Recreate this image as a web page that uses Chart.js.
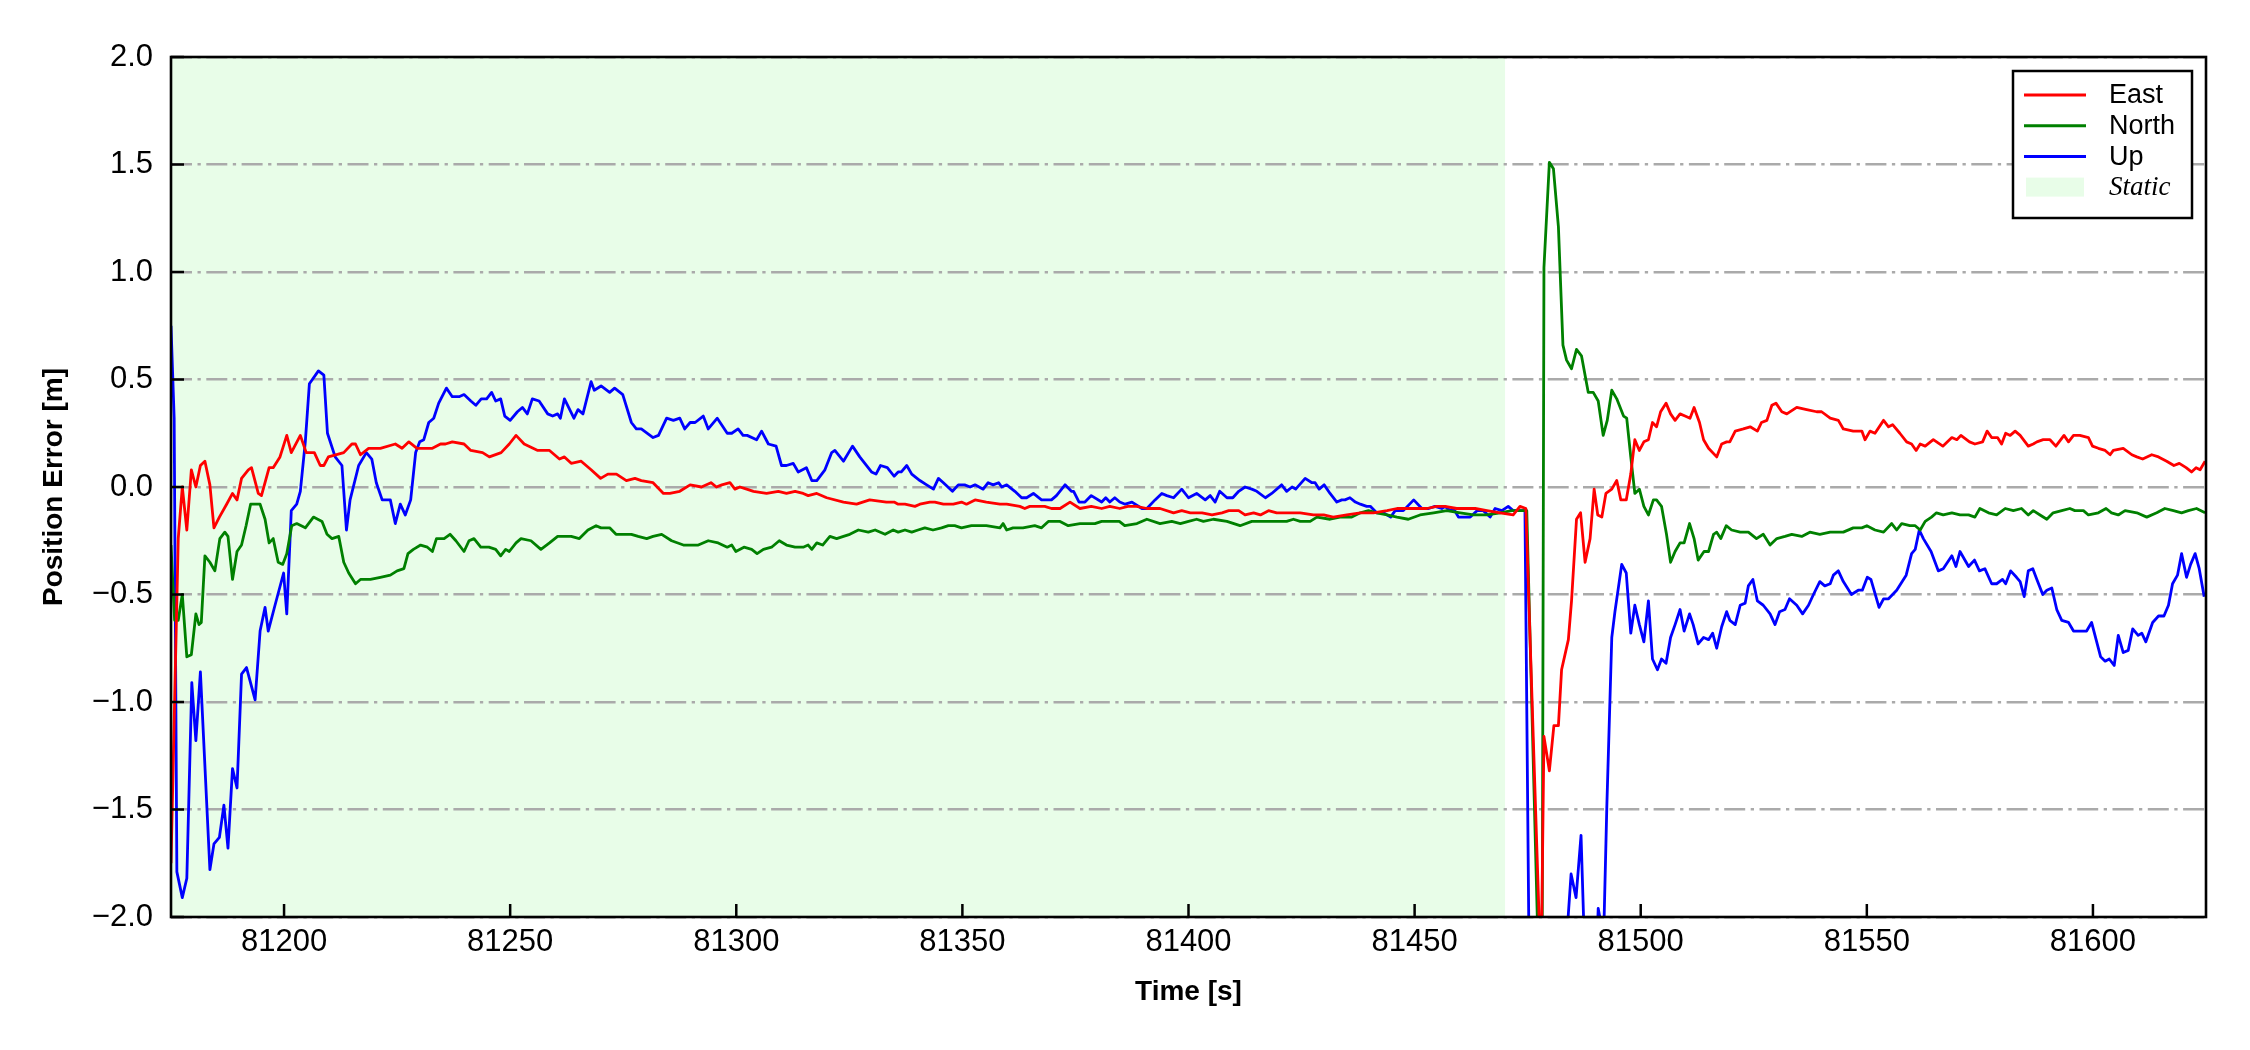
<!DOCTYPE html>
<html>
<head>
<meta charset="utf-8">
<title>Position Error</title>
<script src="https://cdn.jsdelivr.net/npm/chart.js@4.4.1/dist/chart.umd.min.js"></script>
<style>
  html, body { margin: 0; padding: 0; background: #ffffff; }
  #wrap { width: 2250px; height: 1050px; }
</style>
</head>
<body>
<div id="wrap"><canvas id="errorChart" width="2250" height="1050"></canvas></div>
<script>
// ---- data ----
const xTickValues = [81200, 81250, 81300, 81350, 81400, 81450, 81500, 81550, 81600];
const xRange = [81175, 81625];
const yRange = [-2.0, 2.0];
const staticSpan = [81175, 81470];
const staticLabel = "Static";

const eastTime = [
  81175.0, 81176.6, 81177.5, 81178.5, 81179.5, 81180.5, 81181.5, 81182.5, 81183.6, 81184.5,
  81185.7, 81187.3, 81188.6, 81189.6, 81190.6, 81192.1, 81192.8, 81194.3, 81195.0, 81196.7,
  81197.6, 81199.1, 81200.6, 81201.6, 81203.6, 81204.9, 81206.7, 81208.0, 81208.8, 81209.8,
  81213.2, 81215.0, 81215.8, 81216.9, 81218.7, 81221.3, 81224.6, 81226.1, 81227.6, 81229.4,
  81232.8, 81234.6, 81235.7, 81237.2, 81239.8, 81241.3, 81243.9, 81245.4, 81248.0, 81249.8,
  81251.3, 81253.1, 81256.1, 81258.7, 81260.9, 81262.0, 81263.5, 81265.7, 81267.9, 81270.0,
  81271.6, 81273.5, 81275.7, 81277.6, 81279.0, 81281.6, 81283.9, 81285.3, 81287.5, 81289.8,
  81292.3, 81294.4, 81295.6, 81296.8, 81298.6, 81299.7, 81300.8, 81302.3, 81303.8, 81306.7,
  81309.3, 81311.1, 81313.0, 81314.8, 81315.9, 81317.8, 81320.0, 81323.7, 81326.6, 81329.5,
  81333.2, 81334.9, 81335.8, 81337.3, 81339.5, 81340.6, 81342.8, 81343.9, 81345.8, 81348.0,
  81349.8, 81350.9, 81352.8, 81355.3, 81358.3, 81359.8, 81362.7, 81363.8, 81364.9, 81368.2,
  81369.7, 81371.6, 81373.8, 81376.0, 81378.5, 81380.8, 81382.6, 81384.8, 81386.6, 81388.5,
  81390.8, 81393.7, 81396.7, 81398.5, 81400.4, 81403.0, 81405.2, 81407.4, 81408.9, 81411.1,
  81412.5, 81414.4, 81415.9, 81417.7, 81419.5, 81421.7, 81424.7, 81427.6, 81429.9, 81432.0,
  81435.0, 81438.0, 81440.9, 81443.9, 81446.1, 81448.3, 81449.8, 81452.7, 81454.9, 81456.7,
  81459.3, 81461.5, 81463.4, 81466.0, 81468.9, 81471.8, 81473.3, 81474.6, 81477.6, 81477.9,
  81478.6, 81479.8, 81480.8, 81481.8, 81482.5, 81484.0, 81484.7, 81485.8, 81486.7, 81487.7,
  81488.8, 81489.7, 81490.5, 81491.4, 81492.3, 81493.6, 81494.7, 81495.6, 81496.8, 81497.8,
  81498.7, 81499.7, 81500.7, 81501.7, 81502.6, 81503.5, 81504.4, 81505.6, 81506.6, 81507.6,
  81508.7, 81509.8, 81510.9, 81511.8, 81513.0, 81513.9, 81515.0, 81516.8, 81517.9, 81519.0,
  81519.7, 81520.9, 81522.7, 81524.2, 81525.8, 81526.7, 81527.9, 81529.0, 81529.9, 81531.2,
  81532.3, 81534.5, 81536.7, 81538.9, 81540.0, 81541.9, 81543.7, 81544.8, 81547.0, 81548.9,
  81549.6, 81550.7, 81551.8, 81553.7, 81554.8, 81555.7, 81557.3, 81558.8, 81559.9, 81560.9,
  81561.8, 81562.9, 81564.7, 81566.8, 81568.8, 81569.9, 81570.8, 81572.7, 81573.9, 81575.6,
  81576.6, 81577.6, 81578.9, 81579.8, 81580.7, 81581.7, 81582.8, 81583.9, 81585.7, 81586.8,
  81587.6, 81589.0, 81590.5, 81591.8, 81593.6, 81594.6, 81595.7, 81597.1, 81599.0, 81599.9,
  81601.2, 81602.7, 81603.8, 81604.5, 81606.7, 81608.6, 81609.7, 81611.0, 81613.0, 81614.5,
  81616.3, 81617.9, 81619.1, 81620.6, 81621.8, 81622.8, 81623.7, 81624.8
];
const eastError = [
  -1.75, -0.24, 0.00, -0.20, 0.08, 0.00, 0.10, 0.12, 0.01, -0.19,
  -0.14, -0.08, -0.03, -0.06, 0.04, 0.08, 0.09, -0.03, -0.04, 0.09,
  0.09, 0.14, 0.24, 0.16, 0.24, 0.16, 0.16, 0.10, 0.10, 0.14,
  0.16, 0.20, 0.20, 0.15, 0.18, 0.18, 0.20, 0.18, 0.21, 0.18,
  0.18, 0.20, 0.20, 0.21, 0.20, 0.17, 0.16, 0.14, 0.16, 0.20,
  0.24, 0.20, 0.17, 0.17, 0.13, 0.14, 0.11, 0.12, 0.08, 0.04,
  0.06, 0.06, 0.03, 0.04, 0.03, 0.02, -0.03, -0.03, -0.02, 0.01,
  0.00, 0.02, 0.00, 0.01, 0.02, -0.01, 0.00, -0.01, -0.02, -0.03,
  -0.02, -0.03, -0.02, -0.03, -0.04, -0.03, -0.05, -0.07, -0.08, -0.06,
  -0.07, -0.07, -0.08, -0.08, -0.09, -0.08, -0.07, -0.07, -0.08, -0.08,
  -0.07, -0.08, -0.06, -0.07, -0.08, -0.08, -0.09, -0.10, -0.09, -0.09,
  -0.10, -0.10, -0.07, -0.10, -0.09, -0.10, -0.09, -0.10, -0.09, -0.09,
  -0.10, -0.10, -0.12, -0.11, -0.12, -0.12, -0.13, -0.12, -0.11, -0.11,
  -0.13, -0.12, -0.13, -0.11, -0.12, -0.12, -0.12, -0.13, -0.13, -0.14,
  -0.13, -0.12, -0.12, -0.11, -0.10, -0.10, -0.10, -0.10, -0.09, -0.09,
  -0.10, -0.10, -0.10, -0.11, -0.12, -0.13, -0.09, -0.10, -2.05, -2.40,
  -1.16, -1.32, -1.11, -1.11, -0.85, -0.71, -0.53, -0.15, -0.12, -0.35,
  -0.24, -0.01, -0.13, -0.14, -0.03, -0.01, 0.03, -0.06, -0.06, 0.06,
  0.22, 0.17, 0.21, 0.22, 0.30, 0.28, 0.35, 0.39, 0.34, 0.31,
  0.34, 0.33, 0.32, 0.37, 0.30, 0.22, 0.18, 0.14, 0.20, 0.21,
  0.21, 0.26, 0.27, 0.28, 0.26, 0.30, 0.31, 0.38, 0.39, 0.35,
  0.34, 0.37, 0.36, 0.35, 0.35, 0.32, 0.31, 0.27, 0.26, 0.26,
  0.22, 0.26, 0.25, 0.31, 0.28, 0.29, 0.25, 0.21, 0.20, 0.17,
  0.20, 0.19, 0.22, 0.19, 0.23, 0.22, 0.24, 0.21, 0.20, 0.21,
  0.26, 0.23, 0.23, 0.20, 0.25, 0.24, 0.26, 0.24, 0.19, 0.20,
  0.21, 0.22, 0.22, 0.19, 0.24, 0.21, 0.24, 0.24, 0.23, 0.19,
  0.18, 0.17, 0.15, 0.17, 0.18, 0.15, 0.14, 0.13, 0.15, 0.14,
  0.12, 0.10, 0.11, 0.09, 0.07, 0.09, 0.08, 0.12
];

const northTime = [
  81175.0, 81175.8, 81176.6, 81177.5, 81178.5, 81179.5, 81180.5, 81181.2, 81181.7, 81182.5,
  81183.6, 81184.7, 81185.8, 81186.9, 81187.6, 81188.6, 81189.6, 81190.6, 81191.6, 81192.6,
  81193.6, 81194.7, 81195.8, 81196.7, 81197.6, 81198.7, 81199.7, 81200.6, 81201.7, 81202.8,
  81204.7, 81206.5, 81208.4, 81209.5, 81210.6, 81212.1, 81213.2, 81214.3, 81215.8, 81216.9,
  81219.1, 81221.3, 81223.5, 81225.0, 81226.5, 81227.4, 81228.6, 81230.2, 81231.7, 81232.8,
  81233.7, 81235.4, 81236.7, 81238.0, 81239.8, 81240.9, 81242.0, 81243.5, 81245.3, 81246.8,
  81247.9, 81249.0, 81249.8, 81251.3, 81252.4, 81254.6, 81256.8, 81258.7, 81260.5, 81263.5,
  81265.3, 81267.2, 81269.0, 81270.1, 81272.0, 81273.4, 81274.9, 81276.8, 81278.3, 81280.2,
  81281.6, 81283.5, 81285.7, 81288.3, 81290.1, 81291.6, 81293.8, 81296.0, 81298.0, 81299.0,
  81299.9, 81301.7, 81303.4, 81304.6, 81306.0, 81307.8, 81309.5, 81311.1, 81313.0, 81314.8,
  81315.9, 81316.7, 81317.8, 81319.1, 81320.7, 81322.2, 81323.7, 81325.1, 81327.0, 81329.2,
  81330.7, 81332.9, 81334.7, 81335.8, 81337.3, 81338.8, 81340.2, 81341.7, 81343.5, 81345.4,
  81346.9, 81348.3, 81349.8, 81352.0, 81355.3, 81358.3, 81359.0, 81359.8, 81361.2, 81363.4,
  81366.0, 81367.5, 81369.0, 81371.6, 81373.4, 81376.0, 81379.3, 81380.8, 81381.9, 81383.3,
  81384.7, 81385.9, 81388.6, 81390.8, 81393.7, 81396.3, 81398.2, 81400.0, 81401.8, 81403.3,
  81405.5, 81408.5, 81411.4, 81414.0, 81416.6, 81418.8, 81421.7, 81423.2, 81424.7, 81426.9,
  81428.4, 81431.3, 81433.5, 81436.1, 81438.0, 81439.8, 81441.6, 81443.9, 81446.1, 81448.6,
  81451.2, 81454.2, 81457.1, 81460.1, 81463.0, 81466.0, 81468.9, 81471.5, 81473.3, 81474.8,
  81477.5, 81478.2, 81478.6, 81479.8, 81480.7, 81481.8, 81482.8, 81483.6, 81484.7, 81485.8,
  81486.9, 81488.4, 81489.5, 81490.6, 81491.7, 81492.6, 81493.6, 81494.7, 81496.2, 81496.9,
  81497.8, 81498.7, 81499.7, 81500.7, 81501.7, 81502.8, 81503.5, 81504.6, 81505.7, 81506.6,
  81507.6, 81508.7, 81509.6, 81510.8, 81511.8, 81512.7, 81514.0, 81515.0, 81516.1, 81516.8,
  81517.7, 81518.9, 81520.1, 81522.0, 81523.8, 81525.6, 81527.1, 81528.6, 81530.1, 81531.9,
  81533.4, 81535.6, 81537.4, 81539.6, 81541.9, 81544.8, 81547.0, 81548.9, 81550.0, 81551.8,
  81553.7, 81555.5, 81556.6, 81557.7, 81559.5, 81560.7, 81561.8, 81562.9, 81564.3, 81565.4,
  81566.9, 81568.8, 81570.6, 81572.5, 81573.9, 81575.0, 81576.9, 81578.7, 81580.6, 81582.4,
  81584.2, 81585.7, 81586.8, 81588.3, 81589.8, 81591.2, 81593.1, 81594.9, 81596.0, 81597.9,
  81599.0, 81601.2, 81602.9, 81604.1, 81605.6, 81607.1, 81609.7, 81611.9, 81614.1, 81615.9,
  81617.8, 81619.6, 81621.1, 81622.9, 81624.8
];
const northError = [
  -0.27, -0.62, -0.62, -0.50, -0.79, -0.78, -0.59, -0.64, -0.63, -0.32,
  -0.35, -0.39, -0.24, -0.21, -0.23, -0.43, -0.30, -0.27, -0.18, -0.08,
  -0.08, -0.08, -0.15, -0.26, -0.24, -0.35, -0.36, -0.31, -0.18, -0.17,
  -0.19, -0.14, -0.16, -0.22, -0.24, -0.23, -0.35, -0.40, -0.45, -0.43,
  -0.43, -0.42, -0.41, -0.39, -0.38, -0.31, -0.29, -0.27, -0.28, -0.30,
  -0.24, -0.24, -0.22, -0.25, -0.30, -0.25, -0.24, -0.28, -0.28, -0.29,
  -0.32, -0.29, -0.30, -0.26, -0.24, -0.25, -0.29, -0.26, -0.23, -0.23,
  -0.24, -0.20, -0.18, -0.19, -0.19, -0.22, -0.22, -0.22, -0.23, -0.24,
  -0.23, -0.22, -0.25, -0.27, -0.27, -0.27, -0.25, -0.26, -0.28, -0.27,
  -0.30, -0.28, -0.29, -0.31, -0.29, -0.28, -0.25, -0.27, -0.28, -0.28,
  -0.27, -0.29, -0.26, -0.27, -0.23, -0.24, -0.23, -0.22, -0.20, -0.21,
  -0.20, -0.22, -0.20, -0.21, -0.20, -0.21, -0.20, -0.19, -0.20, -0.19,
  -0.18, -0.18, -0.19, -0.18, -0.18, -0.19, -0.17, -0.20, -0.19, -0.19,
  -0.18, -0.19, -0.16, -0.16, -0.18, -0.17, -0.17, -0.16, -0.16, -0.16,
  -0.16, -0.18, -0.17, -0.15, -0.17, -0.16, -0.17, -0.16, -0.15, -0.16,
  -0.15, -0.16, -0.18, -0.16, -0.16, -0.16, -0.16, -0.15, -0.16, -0.16,
  -0.14, -0.15, -0.14, -0.14, -0.12, -0.11, -0.12, -0.13, -0.14, -0.15,
  -0.13, -0.12, -0.11, -0.12, -0.13, -0.13, -0.12, -0.11, -0.11, -0.11,
  -2.30, -2.30, 1.02, 1.51, 1.48, 1.21, 0.66, 0.59, 0.55, 0.64,
  0.61, 0.44, 0.44, 0.40, 0.24, 0.31, 0.45, 0.41, 0.33, 0.32,
  0.14, -0.03, -0.01, -0.09, -0.13, -0.06, -0.06, -0.09, -0.22, -0.35,
  -0.30, -0.26, -0.26, -0.17, -0.24, -0.34, -0.30, -0.30, -0.22, -0.21,
  -0.24, -0.18, -0.20, -0.21, -0.21, -0.24, -0.22, -0.27, -0.24, -0.23,
  -0.22, -0.23, -0.21, -0.22, -0.21, -0.21, -0.19, -0.19, -0.18, -0.20,
  -0.21, -0.17, -0.20, -0.17, -0.18, -0.18, -0.20, -0.16, -0.14, -0.12,
  -0.13, -0.12, -0.13, -0.13, -0.14, -0.10, -0.12, -0.13, -0.10, -0.11,
  -0.10, -0.13, -0.11, -0.13, -0.15, -0.12, -0.11, -0.10, -0.11, -0.11,
  -0.13, -0.12, -0.10, -0.12, -0.13, -0.11, -0.12, -0.14, -0.12, -0.10,
  -0.11, -0.12, -0.11, -0.10, -0.12
];

const upTime = [
  81175.0, 81175.7, 81176.3, 81177.5, 81178.5, 81179.6, 81180.5, 81181.5, 81183.6, 81184.5,
  81185.7, 81186.7, 81187.6, 81188.6, 81189.6, 81190.6, 81191.7, 81193.6, 81194.7, 81195.8,
  81196.5, 81198.0, 81199.9, 81200.6, 81201.6, 81202.8, 81203.6, 81204.7, 81205.6, 81207.6,
  81208.8, 81209.6, 81211.3, 81212.8, 81213.8, 81214.6, 81216.5, 81218.2, 81219.4, 81220.4,
  81221.7, 81223.5, 81224.6, 81225.7, 81226.8, 81228.0, 81229.1, 81230.0, 81230.9, 81232.0,
  81233.1, 81234.2, 81235.9, 81237.2, 81238.7, 81239.8, 81241.3, 81242.4, 81243.6, 81244.8,
  81245.9, 81246.8, 81247.9, 81248.8, 81250.0, 81251.6, 81252.7, 81253.8, 81254.9, 81256.4,
  81258.3, 81259.4, 81260.5, 81261.1, 81262.0, 81264.1, 81265.0, 81266.1, 81267.9, 81268.6,
  81270.1, 81272.0, 81273.1, 81274.9, 81276.8, 81277.9, 81279.0, 81281.6, 81282.8, 81284.6,
  81286.1, 81287.5, 81288.6, 81289.8, 81290.9, 81292.7, 81293.8, 81295.8, 81298.0, 81299.0,
  81300.4, 81301.5, 81302.4, 81304.5, 81305.6, 81307.1, 81308.8, 81310.0, 81311.1, 81312.6,
  81313.7, 81315.5, 81316.7, 81317.8, 81319.6, 81321.1, 81321.8, 81323.7, 81325.7, 81327.3,
  81329.9, 81330.9, 81331.9, 81333.4, 81334.9, 81335.8, 81336.5, 81337.7, 81338.8, 81340.6,
  81342.1, 81343.6, 81344.7, 81345.8, 81347.8, 81349.1, 81350.5, 81351.7, 81352.8, 81354.6,
  81355.7, 81356.8, 81358.0, 81358.7, 81359.8, 81361.6, 81363.1, 81364.2, 81365.7, 81367.5,
  81369.7, 81370.8, 81372.7, 81374.1, 81374.6, 81375.8, 81377.1, 81378.5, 81380.8, 81381.7,
  81382.6, 81383.7, 81384.8, 81386.0, 81387.5, 81389.7, 81390.8, 81392.6, 81394.1, 81395.2,
  81396.7, 81398.5, 81400.0, 81401.8, 81403.7, 81404.8, 81405.9, 81406.9, 81408.5, 81409.8,
  81411.1, 81412.5, 81414.0, 81415.1, 81417.0, 81418.4, 81420.6, 81421.7, 81422.9, 81423.7,
  81425.8, 81427.3, 81428.0, 81428.9, 81430.0, 81431.3, 81432.8, 81433.9, 81434.6, 81435.7,
  81436.9, 81438.0, 81439.4, 81440.2, 81441.6, 81443.1, 81444.7, 81445.7, 81447.5, 81449.8,
  81451.6, 81453.1, 81454.5, 81456.0, 81456.7, 81457.9, 81458.6, 81459.7, 81460.8, 81462.3,
  81463.8, 81465.2, 81466.7, 81467.8, 81469.3, 81470.7, 81471.8, 81473.3, 81474.4, 81475.5,
  81479.0, 81483.3, 81484.6, 81485.7, 81486.8, 81487.8, 81489.5, 81490.6, 81491.8, 81492.5,
  81493.6, 81494.3, 81495.8, 81496.8, 81497.8, 81498.7, 81499.7, 81500.7, 81501.7, 81502.6,
  81503.7, 81504.6, 81505.6, 81506.6, 81507.6, 81508.7, 81509.6, 81510.8, 81511.6, 81512.7,
  81513.9, 81515.0, 81515.9, 81516.8, 81517.9, 81519.0, 81519.7, 81520.9, 81522.0, 81523.1,
  81523.8, 81524.8, 81525.8, 81527.1, 81528.6, 81529.7, 81530.7, 81531.9, 81532.9, 81534.5,
  81535.8, 81537.1, 81538.2, 81539.6, 81540.7, 81541.9, 81542.6, 81543.7, 81544.8, 81546.6,
  81548.1, 81549.0, 81550.1, 81550.9, 81552.7, 81553.7, 81554.8, 81556.6, 81558.7, 81559.9,
  81560.7, 81561.6, 81562.5, 81564.2, 81565.8, 81566.9, 81568.8, 81569.7, 81570.6, 81572.5,
  81573.8, 81574.9, 81576.1, 81577.6, 81578.7, 81580.0, 81580.7, 81581.8, 81583.1, 81583.9,
  81584.8, 81585.7, 81586.7, 81587.6, 81588.9, 81589.8, 81590.9, 81592.0, 81593.1, 81594.6,
  81595.7, 81597.5, 81598.6, 81599.7, 81600.7, 81601.7, 81602.7, 81603.6, 81604.7, 81605.6,
  81606.7, 81607.8, 81608.8, 81610.0, 81610.8, 81611.7, 81613.2, 81614.5, 81615.7, 81616.7,
  81617.6, 81618.7, 81619.6, 81620.7, 81621.6, 81622.6, 81623.5, 81624.6
];
const upError = [
  0.75, 0.32, -1.79, -1.91, -1.82, -0.91, -1.18, -0.86, -1.78, -1.66,
  -1.63, -1.48, -1.68, -1.31, -1.40, -0.87, -0.84, -0.99, -0.67, -0.56,
  -0.67, -0.55, -0.40, -0.59, -0.11, -0.08, -0.02, 0.21, 0.48, 0.54,
  0.52, 0.25, 0.14, 0.10, -0.20, -0.06, 0.10, 0.16, 0.13, 0.02,
  -0.06, -0.06, -0.17, -0.08, -0.13, -0.06, 0.16, 0.21, 0.22, 0.30,
  0.32, 0.39, 0.46, 0.42, 0.42, 0.43, 0.40, 0.38, 0.41, 0.41,
  0.44, 0.40, 0.41, 0.33, 0.31, 0.35, 0.37, 0.34, 0.41, 0.40,
  0.34, 0.33, 0.34, 0.32, 0.41, 0.32, 0.36, 0.34, 0.49, 0.45,
  0.47, 0.44, 0.46, 0.43, 0.30, 0.27, 0.27, 0.23, 0.24, 0.32,
  0.31, 0.32, 0.27, 0.30, 0.30, 0.33, 0.27, 0.32, 0.25, 0.25,
  0.27, 0.24, 0.24, 0.22, 0.26, 0.20, 0.19, 0.10, 0.10, 0.11,
  0.07, 0.09, 0.03, 0.03, 0.08, 0.16, 0.17, 0.12, 0.19, 0.14,
  0.07, 0.06, 0.10, 0.09, 0.05, 0.07, 0.07, 0.10, 0.06, 0.03,
  0.01, -0.01, 0.04, 0.02, -0.02, 0.01, 0.01, 0.00, 0.01, -0.01,
  0.02, 0.01, 0.02, 0.00, 0.01, -0.02, -0.05, -0.05, -0.03, -0.06,
  -0.06, -0.04, 0.01, -0.02, -0.02, -0.07, -0.07, -0.04, -0.07, -0.05,
  -0.07, -0.05, -0.07, -0.08, -0.07, -0.10, -0.10, -0.06, -0.03, -0.04,
  -0.05, -0.01, -0.05, -0.03, -0.06, -0.04, -0.07, -0.02, -0.05, -0.05,
  -0.02, 0.00, -0.01, -0.02, -0.05, -0.03, 0.01, -0.02, 0.00, -0.01,
  0.04, 0.02, 0.02, -0.01, 0.01, -0.03, -0.07, -0.06, -0.06, -0.05,
  -0.07, -0.08, -0.09, -0.09, -0.12, -0.12, -0.14, -0.11, -0.11, -0.06,
  -0.10, -0.10, -0.09, -0.10, -0.09, -0.11, -0.10, -0.14, -0.14, -0.14,
  -0.11, -0.11, -0.14, -0.10, -0.11, -0.09, -0.11, -0.11, -0.11, -2.60,
  -3.00, -2.20, -1.80, -1.91, -1.62, -2.30, -2.60, -1.96, -2.10, -1.49,
  -0.70, -0.58, -0.36, -0.40, -0.68, -0.55, -0.64, -0.72, -0.53, -0.80,
  -0.85, -0.80, -0.82, -0.70, -0.64, -0.57, -0.67, -0.59, -0.64, -0.73,
  -0.70, -0.71, -0.68, -0.75, -0.65, -0.58, -0.62, -0.64, -0.55, -0.54,
  -0.46, -0.43, -0.53, -0.55, -0.59, -0.64, -0.58, -0.57, -0.52, -0.55,
  -0.59, -0.55, -0.50, -0.44, -0.46, -0.45, -0.41, -0.39, -0.44, -0.50,
  -0.48, -0.48, -0.42, -0.43, -0.56, -0.52, -0.52, -0.48, -0.41, -0.31,
  -0.29, -0.20, -0.24, -0.30, -0.39, -0.38, -0.32, -0.37, -0.30, -0.37,
  -0.34, -0.39, -0.38, -0.45, -0.45, -0.43, -0.45, -0.39, -0.42, -0.44,
  -0.51, -0.39, -0.38, -0.43, -0.50, -0.48, -0.47, -0.57, -0.62, -0.63,
  -0.67, -0.67, -0.67, -0.63, -0.71, -0.79, -0.81, -0.80, -0.83, -0.69,
  -0.77, -0.76, -0.66, -0.69, -0.68, -0.72, -0.63, -0.60, -0.60, -0.55,
  -0.45, -0.41, -0.31, -0.42, -0.36, -0.31, -0.38, -0.51
];

const seriesNames = ["East", "North", "Up"];
const seriesColors = ["#ff0000", "#008000", "#0000ff"];
const staticColor = "#e8fde8";
const gridColor = "#aaaaaa";
const sansFont = "'Liberation Sans', Arial, Helvetica, sans-serif";
const serifFont = "'Liberation Serif', 'Times New Roman', serif";

const toPoints = (times, values) => times.map((t, i) => ({ x: t, y: values[i] }));

const formatTick = (v) => (v < 0 ? "\u2212" : "") + Math.abs(v).toFixed(1);

// light green band marking the static period, drawn under grid and lines
const staticBand = {
  id: "staticBand",
  beforeDraw(chart) {
    const { ctx, chartArea, scales } = chart;
    const x0 = Math.max(scales.x.getPixelForValue(staticSpan[0]), chartArea.left);
    const x1 = Math.min(scales.x.getPixelForValue(staticSpan[1]), chartArea.right);
    ctx.save();
    ctx.fillStyle = staticColor;
    ctx.fillRect(x0, chartArea.top, x1 - x0, chartArea.bottom - chartArea.top);
    ctx.restore();
  },
};

// black frame and inward tick marks
const frameTicks = {
  id: "frameTicks",
  afterDatasetsDraw(chart) {
    const { ctx, chartArea, scales } = chart;
    const len = 13;
    ctx.save();
    ctx.strokeStyle = "#000";
    ctx.lineWidth = 2.5;
    ctx.beginPath();
    scales.x.ticks.forEach((t) => {
      const px = scales.x.getPixelForValue(t.value);
      ctx.moveTo(px, chartArea.bottom);
      ctx.lineTo(px, chartArea.bottom - len);
    });
    scales.y.ticks.forEach((t) => {
      const py = scales.y.getPixelForValue(t.value);
      ctx.moveTo(chartArea.left, py);
      ctx.lineTo(chartArea.left + len, py);
    });
    ctx.stroke();
    ctx.lineWidth = 2.6;
    ctx.strokeRect(
      chartArea.left,
      chartArea.top,
      chartArea.right - chartArea.left,
      chartArea.bottom - chartArea.top
    );
    ctx.restore();
  },
};

// boxed legend in the upper right corner
const boxLegend = {
  id: "boxLegend",
  afterDraw(chart) {
    const { ctx, chartArea } = chart;
    const w = 179, h = 147;
    const bx = chartArea.right - 14 - w;
    const by = chartArea.top + 14;
    const rowH = 30.7;
    ctx.save();
    ctx.fillStyle = "#ffffff";
    ctx.fillRect(bx, by, w, h);
    ctx.strokeStyle = "#000";
    ctx.lineWidth = 2.5;
    ctx.strokeRect(bx, by, w, h);
    ctx.textBaseline = "middle";
    ctx.textAlign = "left";
    chart.data.datasets.forEach((ds, i) => {
      const y = by + 24 + i * rowH;
      ctx.strokeStyle = ds.borderColor;
      ctx.lineWidth = 3;
      ctx.beginPath();
      ctx.moveTo(bx + 11, y);
      ctx.lineTo(bx + 73, y);
      ctx.stroke();
      ctx.fillStyle = "#000";
      ctx.font = "27px " + sansFont;
      ctx.fillText(ds.label, bx + 96, y + 1);
    });
    const sy = by + 24 + chart.data.datasets.length * rowH;
    ctx.fillStyle = staticColor;
    ctx.fillRect(bx + 13, sy - 9.5, 58, 19);
    ctx.fillStyle = "#000";
    ctx.font = "italic 27px " + serifFont;
    ctx.fillText(staticLabel, bx + 96, sy + 1);
    ctx.restore();
  },
};

const ctx = document.getElementById("errorChart").getContext("2d");
new Chart(ctx, {
  type: "line",
  data: {
    datasets: [
      { label: seriesNames[0], data: toPoints(eastTime, eastError), borderColor: seriesColors[0] },
      { label: seriesNames[1], data: toPoints(northTime, northError), borderColor: seriesColors[1] },
      { label: seriesNames[2], data: toPoints(upTime, upError), borderColor: seriesColors[2] },
    ],
  },
  options: {
    responsive: false,
    maintainAspectRatio: false,
    devicePixelRatio: 1,
    animation: false,
    parsing: true,
    elements: {
      line: { borderWidth: 2.8, tension: 0, fill: false, borderCapStyle: "butt", borderJoinStyle: "round" },
      point: { radius: 0, hoverRadius: 0 },
    },
    layout: { padding: { left: 0, top: 57, right: 44, bottom: 0 } },
    scales: {
      x: {
        type: "linear",
        min: xRange[0],
        max: xRange[1],
        afterBuildTicks: (scale) => {
          scale.ticks = xTickValues.map((v) => ({ value: v }));
        },
        afterFit: (scale) => {
          scale.height = 133;
        },
        grid: { display: false, drawTicks: false },
        border: { display: false },
        ticks: {
          padding: 7,
          color: "#000",
          font: { family: sansFont, size: 31 },
          maxRotation: 0,
          autoSkip: false,
          callback: (v) => String(v),
        },
        title: {
          display: true,
          text: "Time [s]",
          color: "#000",
          font: { family: sansFont, size: 28, weight: "bold" },
          padding: { top: 0, bottom: 41 },
        },
      },
      y: {
        type: "linear",
        min: yRange[0],
        max: yRange[1],
        afterFit: (scale) => {
          scale.width = 171;
        },
        grid: { color: gridColor, lineWidth: 2.6, drawTicks: false },
        border: { display: false, dash: [21, 5.5, 3.3, 5.5] },
        ticks: {
          stepSize: 0.5,
          padding: 18,
          color: "#000",
          font: { family: sansFont, size: 31 },
          callback: (v) => formatTick(v),
        },
        title: {
          display: true,
          text: "Position Error [m]",
          color: "#000",
          font: { family: sansFont, size: 28, weight: "bold" },
          padding: { top: 37, bottom: 0 },
        },
      },
    },
    plugins: {
      legend: { display: false },
      tooltip: { enabled: false },
    },
  },
  plugins: [staticBand, frameTicks, boxLegend],
});
</script>
</body>
</html>
